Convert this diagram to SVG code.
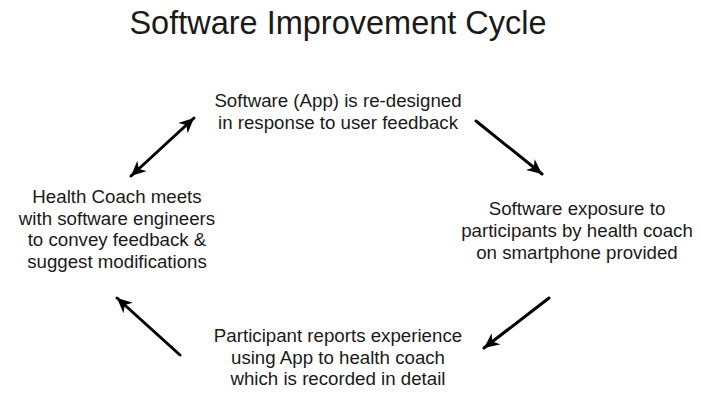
<svg xmlns="http://www.w3.org/2000/svg" width="701" height="394" viewBox="0 0 701 394">
<style>
text{font-family:"Liberation Sans",Arial,sans-serif;fill:#1a1a1a;text-anchor:middle}
.title{font-size:32.5px}
.n{font-size:18.7px}
.c{stroke:#000;stroke-width:3;fill:none;stroke-linecap:round}
</style>
<defs>
<marker id="ah" viewBox="-15 -8 16 16" refX="0" refY="0" markerWidth="16" markerHeight="16" markerUnits="userSpaceOnUse" orient="auto-start-reverse">
<path d="M0,0 L-15,-7 L-10.5,0 L-15,7 Z" fill="#000"/>
</marker>
</defs>
<rect width="701" height="394" fill="#fff"/>
<text class="title" x="338" y="34">Software Improvement Cycle</text>
<g id="top">
<text class="n" x="338" y="107">Software (App) is re-designed</text>
<text class="n" x="338" y="129">in response to user feedback</text>
</g>
<g id="right">
<text class="n" x="577" y="215">Software exposure to</text>
<text class="n" x="577" y="237">participants by health coach</text>
<text class="n" x="577" y="259">on smartphone provided</text>
</g>
<g id="bottom">
<text class="n" x="338" y="342">Participant reports experience</text>
<text class="n" x="338" y="363.5">using App to health coach</text>
<text class="n" x="338" y="385">which is recorded in detail</text>
</g>
<g id="left">
<text class="n" x="117" y="203">Health Coach meets</text>
<text class="n" x="117" y="224.5">with software engineers</text>
<text class="n" x="117" y="246">to convey feedback &amp;</text>
<text class="n" x="117" y="267.5">suggest modifications</text>
</g>
<g id="connectors">
<line class="c" x1="131" y1="176" x2="194" y2="118" marker-start="url(#ah)" marker-end="url(#ah)"/>
<line class="c" x1="476" y1="121" x2="542" y2="174" marker-end="url(#ah)"/>
<line class="c" x1="549" y1="298" x2="484" y2="348" marker-end="url(#ah)"/>
<line class="c" x1="180" y1="355" x2="117" y2="298" marker-end="url(#ah)"/>
</g>
</svg>
